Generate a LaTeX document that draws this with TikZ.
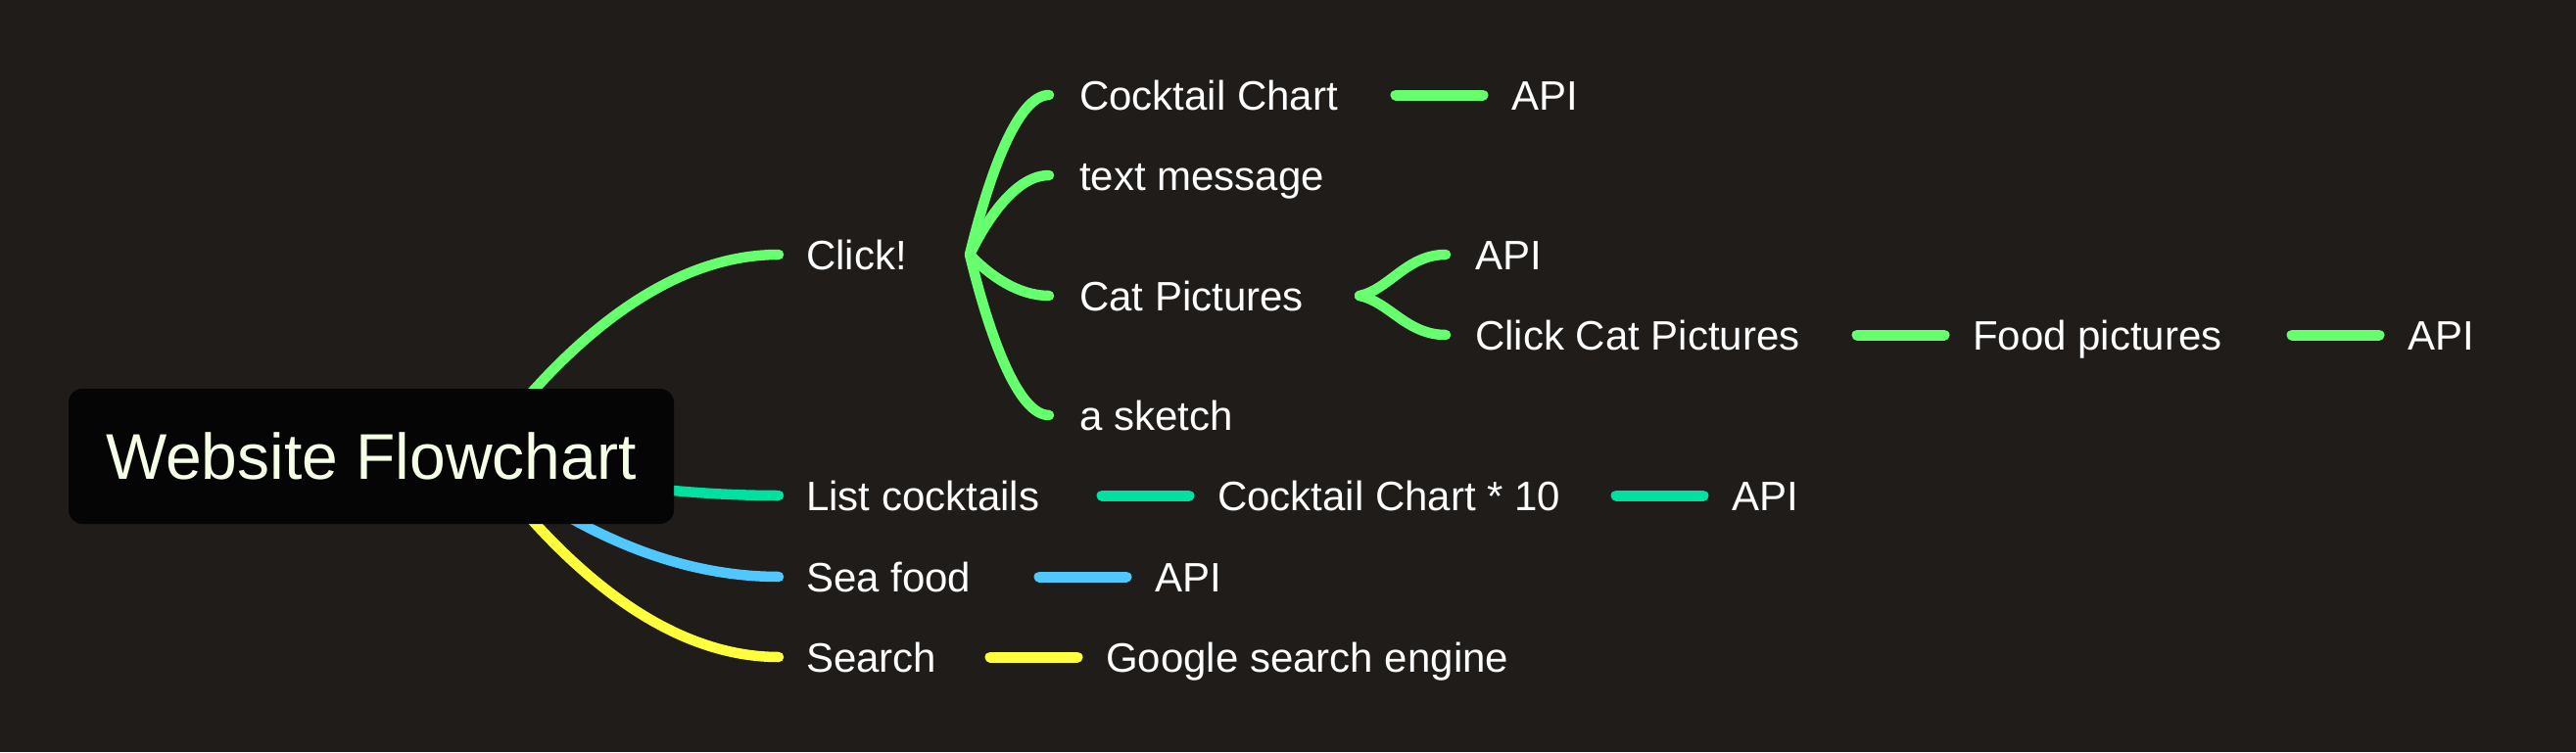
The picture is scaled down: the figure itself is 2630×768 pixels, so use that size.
\documentclass[tikz,border=0pt]{standalone}
\usepackage{fontspec}
\setmainfont{Liberation Sans}
\usetikzlibrary{calc}
\definecolor{bgc}{RGB}{32,28,25}
\definecolor{gr}{RGB}{102,255,110}
\definecolor{tl}{RGB}{0,224,160}
\definecolor{bl}{RGB}{80,200,255}
\definecolor{yl}{RGB}{255,255,60}
\definecolor{rootfill}{RGB}{5,5,5}
\definecolor{roottext}{RGB}{245,255,230}
\pgfdeclarelayer{back}
\pgfdeclarelayer{bg}
\pgfsetlayers{back,bg,main}
\tikzset{
  topic/.style={anchor=west, inner sep=0pt, text height=30pt, text depth=0pt, text=white, font=\fontsize{42}{50}\selectfont},
  roottopic/.style={fill=rootfill, rounded corners=14pt, minimum width=618pt, minimum height=138pt, inner sep=0pt, text height=47pt, text depth=0pt, text=roottext, font=\fontsize{66}{74}\selectfont},
  branch/.style={line width=10.5pt, line cap=round},
  link/.style={line width=11pt, line cap=round},
}
\begin{document}
\begin{tikzpicture}[x=1pt,y=-1pt]
\useasboundingbox (0,0) rectangle (2630,768);
\begin{pgfonlayer}{back}
\fill[bgc] (0,0) rectangle (2630,768);
\end{pgfonlayer}
% nodes
\node[roottopic] (root) at (379,466) {Website Flowchart};
\node[topic] (click) at (823,260) {Click!};
\node[topic] (cc) at (1102,97) {Cocktail Chart};
\node[topic] (api1) at (1543,97) {API};
\node[topic] (tm) at (1102,179) {text message};
\node[topic] (cat) at (1102,302) {Cat Pictures};
\node[topic] (api2) at (1506,260) {API};
\node[topic] (ccp) at (1506,342) {Click Cat Pictures};
\node[topic] (food) at (2014,342) {Food pictures};
\node[topic] (api3) at (2458,342) {API};
\node[topic] (sketch) at (1102,424) {a sketch};
\node[topic] (list) at (823,506) {List cocktails};
\node[topic] (cc10) at (1243,506) {Cocktail Chart * 10};
\node[topic] (api4) at (1768,506) {API};
\node[topic] (sea) at (823,589) {Sea food};
\node[topic] (api5) at (1179,589) {API};
\node[topic] (search) at (823,671) {Search};
\node[topic] (google) at (1129,671) {Google search engine};
% hubs
\coordinate (s0) at (490,466);
\coordinate (s1) at (990,260);
\coordinate (s2) at (1388,302);
\begin{pgfonlayer}{bg}
\draw[branch,gr] (s0) .. controls (566,363) and (672,260) .. ([xshift=-28pt]click.west);
\draw[branch,tl] (s0) .. controls (566,486) and (672,506) .. ([xshift=-28pt]list.west);
\draw[branch,bl] (s0) .. controls (566,527) and (672,589) .. ([xshift=-28pt]sea.west);
\draw[branch,yl] (s0) .. controls (566,568) and (672,671) .. ([xshift=-28pt]search.west);
\end{pgfonlayer}
\draw[branch,gr] (s1) .. controls (1010,178) and (1039,97) .. ([xshift=-31pt]cc.west);
\draw[branch,gr] (s1) .. controls (1010,219) and (1039,179) .. ([xshift=-31pt]tm.west);
\draw[branch,gr] (s1) .. controls (1010,281) and (1039,302) .. ([xshift=-31pt]cat.west);
\draw[branch,gr] (s1) .. controls (1010,342) and (1039,424) .. ([xshift=-31pt]sketch.west);
\draw[branch,gr] (s2) .. controls (1418,296) and (1436,260) .. ([xshift=-30pt]api2.west);
\draw[branch,gr] (s2) .. controls (1418,308) and (1436,342) .. ([xshift=-30pt]ccp.west);
% straight links
\draw[link,gr] ($(cc.east -| api1.west)+(-118,0)$) -- ([xshift=-29pt]api1.west);
\draw[link,gr] ($(ccp.east -| food.west)+(-118,0)$) -- ([xshift=-29pt]food.west);
\draw[link,gr] ($(food.east -| api3.west)+(-118,0)$) -- ([xshift=-29pt]api3.west);
\draw[link,tl] ($(list.east -| cc10.west)+(-118,0)$) -- ([xshift=-29pt]cc10.west);
\draw[link,tl] ($(cc10.east -| api4.west)+(-118,0)$) -- ([xshift=-29pt]api4.west);
\draw[link,bl] ($(sea.east -| api5.west)+(-118,0)$) -- ([xshift=-29pt]api5.west);
\draw[link,yl] ($(search.east -| google.west)+(-118,0)$) -- ([xshift=-29pt]google.west);
\end{tikzpicture}
\end{document}
